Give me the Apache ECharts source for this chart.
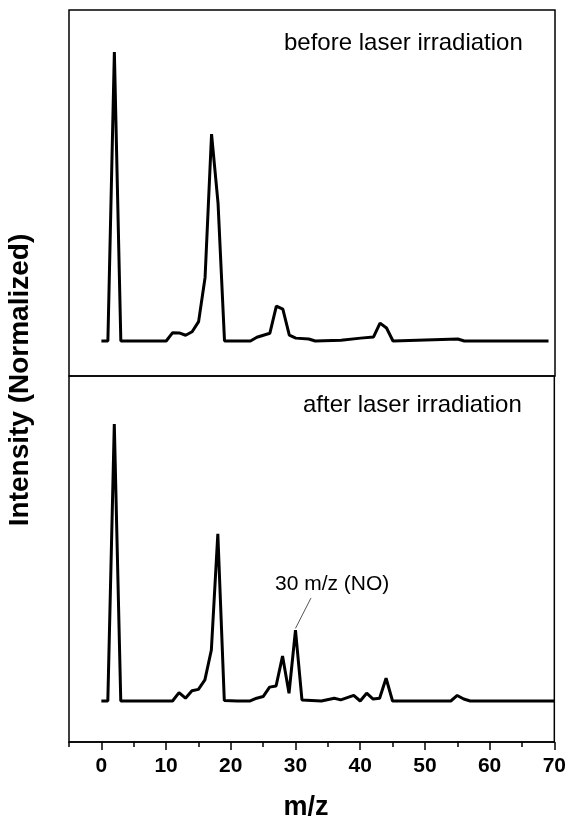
<!DOCTYPE html>
<html>
<head>
<meta charset="utf-8">
<style>
  html, body { margin: 0; padding: 0; background: #fff; }
  #main { width: 569px; height: 823px; }
</style>
<script src="https://cdn.jsdelivr.net/npm/echarts@6/dist/echarts.min.js"></script>
</head>
<body>
<div id="main"></div>
<script>
// m/z scan, intensity normalized to the m/z 2 peak
var mzBefore  = [0, 1, 2, 3, 10, 11, 12, 13, 14, 15, 16, 17, 18, 19, 20, 23, 24, 26, 27, 28, 29, 30, 32, 33, 37, 40, 42, 43, 44, 45, 55, 56, 69];
var intBefore = [0, 0, 1, 0, 0, 0.029, 0.028, 0.02, 0.032, 0.067, 0.22, 0.716, 0.477, 0, 0, 0, 0.013, 0.027, 0.121, 0.11, 0.02, 0.01, 0.007, 0, 0.003, 0.01, 0.014, 0.062, 0.045, 0, 0.007, 0, 0];

var mzAfter  = [0, 1, 2, 3, 11, 12, 13, 14, 15, 16, 17, 18, 19, 21, 23, 24, 25, 26, 27, 28, 29, 30, 31, 34, 36, 37, 39, 40, 41, 42, 43, 44, 45, 54, 55, 56, 57, 70];
var intAfter = [0, 0, 1, 0, 0, 0.03, 0.01, 0.037, 0.042, 0.076, 0.184, 0.603, 0.002, 0, 0, 0.01, 0.016, 0.05, 0.054, 0.162, 0.028, 0.256, 0.004, 0, 0.01, 0.004, 0.02, 0, 0.028, 0.007, 0.01, 0.082, 0, 0, 0.02, 0.007, 0, 0];

var majorTicks = [0, 10, 20, 30, 40, 50, 60, 70];
var minorTicks = [-5, 5, 15, 25, 35, 45, 55, 65];

var font = "'Liberation Sans', Arial, sans-serif";

function pairs(xs, ys) {
  return xs.map(function (x, i) { return [x, ys[i]]; });
}

var myChart = echarts.init(document.getElementById('main'));
myChart.setOption({
  animation: false,
  backgroundColor: '#fff',
  grid: [
    { left: 69, top: 10, width: 486, height: 366, show: true, borderColor: '#000', borderWidth: 1.5, backgroundColor: 'transparent' },
    { left: 69, top: 376, width: 486, height: 366, show: true, borderColor: '#000', borderWidth: 1.5, backgroundColor: 'transparent' }
  ],
  xAxis: [
    { gridIndex: 0, type: 'value', min: -5, max: 70, show: false },
    {
      gridIndex: 1, type: 'value', min: -5, max: 70, position: 'bottom',
      axisLine: { show: true, onZero: false, lineStyle: { color: '#000', width: 1.5 } },
      axisTick: { show: true, customValues: majorTicks, length: 8, lineStyle: { color: '#000', width: 1.5 } },
      axisLabel: {
        show: true, customValues: majorTicks, margin: 14, showMinLabel: true, showMaxLabel: true,
        color: '#000', fontSize: 21, fontWeight: 'bold', fontFamily: font
      },
      splitLine: { show: false }
    },
    {
      gridIndex: 1, type: 'value', min: -5, max: 70, position: 'bottom',
      axisLine: { show: false, onZero: false },
      axisTick: { show: true, customValues: minorTicks, length: 5, lineStyle: { color: '#000', width: 1.5 } },
      axisLabel: { show: false },
      splitLine: { show: false }
    }
  ],
  yAxis: [
    { gridIndex: 0, type: 'value', min: -0.121, max: 1.145, show: false },
    { gridIndex: 1, type: 'value', min: -0.148, max: 1.173, show: false }
  ],
  series: [
    {
      name: 'before', type: 'line', xAxisIndex: 0, yAxisIndex: 0,
      symbol: 'none', lineStyle: { color: '#000', width: 3 },
      data: pairs(mzBefore, intBefore)
    },
    {
      name: 'after', type: 'line', xAxisIndex: 1, yAxisIndex: 1,
      symbol: 'none', lineStyle: { color: '#000', width: 3 },
      data: pairs(mzAfter, intAfter),
      markLine: {
        silent: true, symbol: ['none', 'none'], label: { show: false },
        lineStyle: { color: '#555', width: 1, type: 'solid' },
        data: [[{ coord: [30, 0.262] }, { coord: [32.4, 0.372] }]]
      }
    }
  ],
  graphic: [
    {
      type: 'text', left: 284, top: 31,
      style: { text: 'before laser irradiation', fill: '#000', fontSize: 24, fontFamily: font }
    },
    {
      type: 'text', left: 303, top: 393,
      style: { text: 'after laser irradiation', fill: '#000', fontSize: 24, fontFamily: font }
    },
    {
      type: 'text', left: 275, top: 574,
      style: { text: '30 m/z (NO)', fill: '#000', fontSize: 21, fontFamily: font }
    },
    {
      type: 'text', x: 306, y: 808,
      style: { text: 'm/z', fill: '#000', fontSize: 27, fontWeight: 'bold', fontFamily: font, align: 'center', verticalAlign: 'middle' }
    },
    {
      type: 'text', x: 20, y: 380, rotation: Math.PI / 2,
      style: { text: 'Intensity (Normalized)', fill: '#000', fontSize: 28, fontWeight: 'bold', fontFamily: font, align: 'center', verticalAlign: 'middle' }
    }
  ]
});
</script>
</body>
</html>
